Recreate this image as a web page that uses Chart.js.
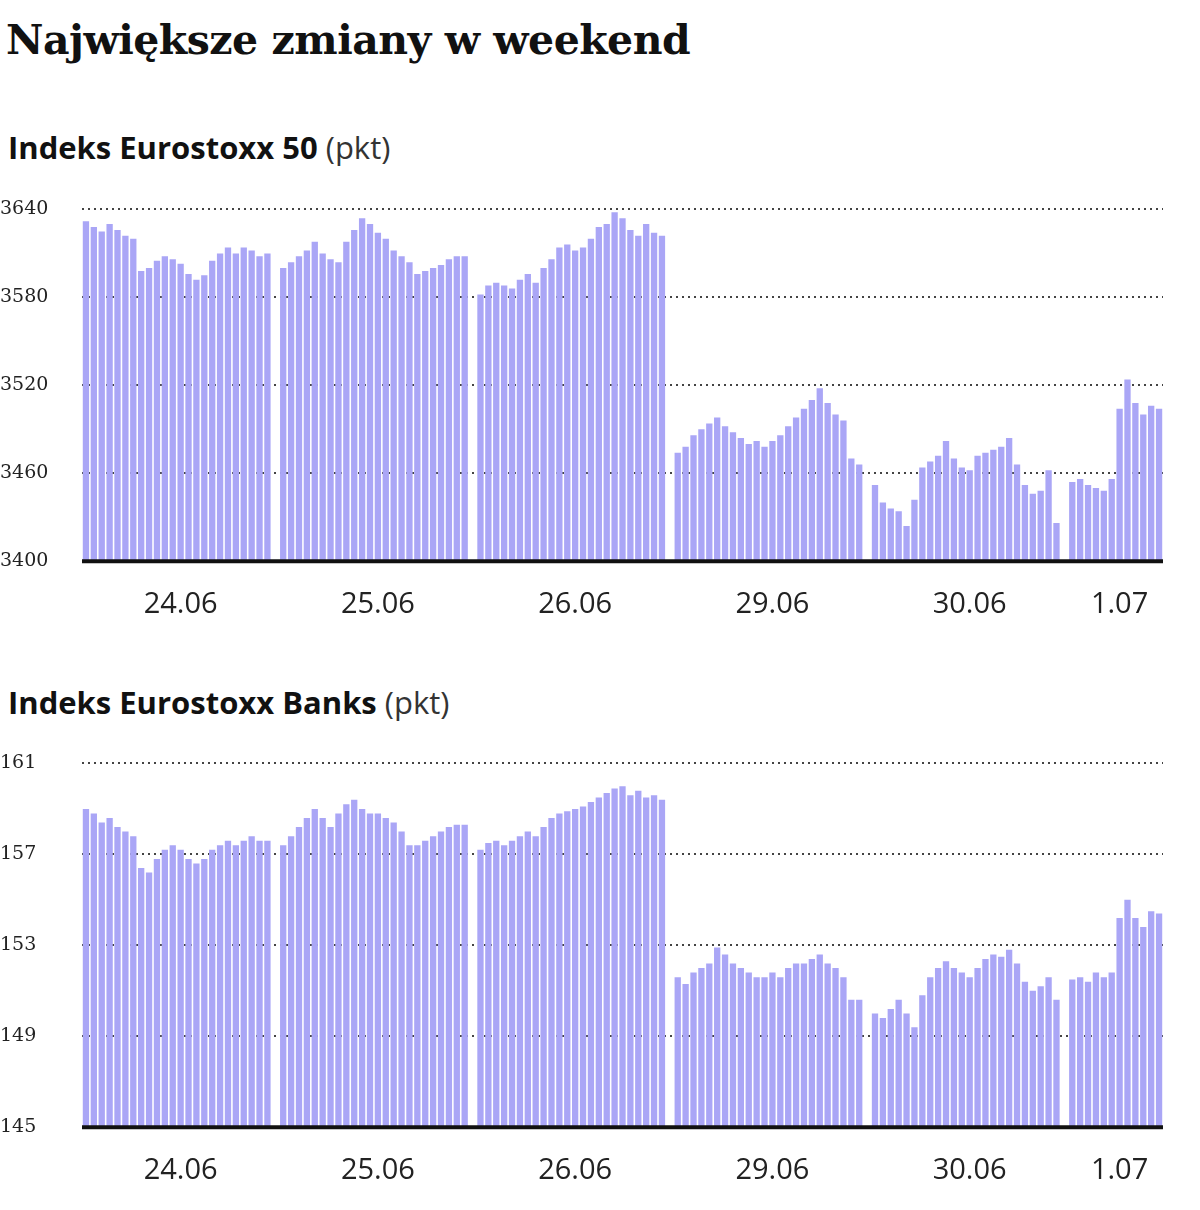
<!DOCTYPE html>
<html><head><meta charset="utf-8">
<script src="https://cdn.jsdelivr.net/npm/chart.js@4"></script>
<style>
body{margin:0;background:#fff;width:1200px;height:1210px;position:relative;font-family:"Open Sans",sans-serif;}
h1{position:absolute;left:6px;top:16px;margin:0;font-family:"DejaVu Serif",serif;font-size:41px;font-weight:bold;color:#111;letter-spacing:-0.5px}
.sub{position:absolute;left:8px;margin:0;font-size:31px;color:#111;font-weight:bold}
.sub span{font-weight:normal;color:#333}
.box{position:absolute;left:0;width:1180px}
</style></head><body>
<h1>Największe zmiany w weekend</h1>
<div class="sub" style="top:126px">Indeks Eurostoxx 50 <span>(pkt)</span></div>
<div class="box" style="top:190px;height:450px"><canvas id="c1"></canvas></div>
<div class="sub" style="top:681px">Indeks Eurostoxx Banks <span>(pkt)</span></div>
<div class="box" style="top:744px;height:462px"><canvas id="c2"></canvas></div>
<script>
const days = ['24.06','25.06','26.06','29.06','30.06','1.07'];

const stoxx24 = [3632,3628,3625,3630,3626,3622,3620,3598,3600,3605,3608,3606,3603,3596,3592,3595,3605,3610,3614,3610,3614,3612,3608,3610];
const stoxx25 = [3600,3604,3608,3612,3618,3610,3606,3604,3618,3626,3634,3630,3624,3620,3612,3608,3604,3596,3598,3600,3602,3606,3608,3608];
const stoxx26 = [3582,3588,3590,3588,3586,3592,3596,3590,3600,3606,3614,3616,3612,3614,3620,3628,3630,3638,3634,3626,3622,3630,3624,3622];
const stoxx29 = [3474,3478,3486,3490,3494,3498,3492,3488,3484,3480,3482,3478,3482,3486,3492,3498,3504,3510,3518,3508,3500,3496,3470,3466];
const stoxx30 = [3452,3440,3436,3434,3424,3442,3464,3468,3472,3482,3470,3464,3462,3472,3474,3476,3478,3484,3466,3452,3446,3448,3462,3426];
const stoxx01 = [3454,3456,3452,3450,3448,3456,3504,3524,3508,3500,3506,3504];

const banks24 = [159.0,158.8,158.4,158.6,158.2,158.0,157.8,156.4,156.2,156.8,157.2,157.4,157.2,156.8,156.6,156.8,157.2,157.4,157.6,157.4,157.6,157.8,157.6,157.6];
const banks25 = [157.4,157.8,158.2,158.6,159.0,158.6,158.2,158.8,159.2,159.4,159.0,158.8,158.8,158.6,158.4,158.0,157.4,157.4,157.6,157.8,158.0,158.2,158.3,158.3];
const banks26 = [157.2,157.5,157.6,157.4,157.6,157.8,158.0,157.8,158.2,158.6,158.8,158.9,159.0,159.1,159.3,159.5,159.7,159.9,160.0,159.6,159.8,159.5,159.6,159.4];
const banks29 = [151.6,151.3,151.8,152.0,152.2,152.9,152.6,152.2,152.0,151.8,151.6,151.6,151.8,151.6,152.0,152.2,152.2,152.4,152.6,152.2,152.0,151.6,150.6,150.6];
const banks30 = [150.0,149.8,150.2,150.6,150.0,149.4,150.8,151.6,152.0,152.3,152.0,151.8,151.6,152.0,152.4,152.6,152.5,152.8,152.2,151.4,151.0,151.2,151.6,150.6];
const banks01 = [151.5,151.6,151.4,151.8,151.6,151.8,154.2,155.0,154.2,153.8,154.5,154.4];

const stoxxTicks = [3400,3460,3520,3580,3640];
const banksTicks = [145,149,153,157,161];

function build(parts) {
  const labels = [], values = [];
  parts.forEach((p, d) => {
    if (d > 0) { labels.push(''); values.push(null); }
    const mid = Math.floor(p.length / 2);
    p.forEach((v, i) => { labels.push(i === mid ? days[d] : ''); values.push(v); });
  });
  return {labels, values};
}

const baseLine = {
  id: 'baseLine',
  afterDraw(chart) {
    const {ctx, chartArea: a} = chart;
    ctx.save();
    ctx.strokeStyle = '#111'; ctx.lineWidth = 4;
    ctx.beginPath(); ctx.moveTo(a.left, a.bottom); ctx.lineTo(a.right, a.bottom); ctx.stroke();
    ctx.restore();
  }
};

function draw(id, parts, ticks) {
  const d = build(parts);
  new Chart(document.getElementById(id), {
    type: 'bar',
    data: {labels: d.labels, datasets: [{data: d.values, backgroundColor: '#aaa6f6', barPercentage: 0.8, categoryPercentage: 1}]},
    options: {
      responsive: true, maintainAspectRatio: false, animation: false,
      layout: {padding: {top: 10, right: 17}},
      plugins: {legend: {display: false}, tooltip: {enabled: false}},
      scales: {
        x: {
          grid: {display: false}, border: {display: false},
          ticks: {autoSkip: false, maxRotation: 0, color: '#222', font: {size: 29, family: 'Open Sans'}, padding: 18, callback: (v, i) => d.labels[i]}
        },
        y: {
          min: ticks[0], max: ticks[ticks.length - 1],
          afterBuildTicks: s => { s.ticks = ticks.map(v => ({value: v})); },
          afterFit: s => { s.width = 82; },
          grid: {color: '#444', lineWidth: 2, drawTicks: false},
          border: {display: false, dash: [2, 4]},
          ticks: {color: '#222', font: {size: 19, family: 'DejaVu Serif'}, crossAlign: 'far', padding: 8, callback: v => v}
        }
      }
    },
    plugins: [baseLine]
  });
}

draw('c1', [stoxx24, stoxx25, stoxx26, stoxx29, stoxx30, stoxx01], stoxxTicks);
draw('c2', [banks24, banks25, banks26, banks29, banks30, banks01], banksTicks);
</script>
</body></html>
